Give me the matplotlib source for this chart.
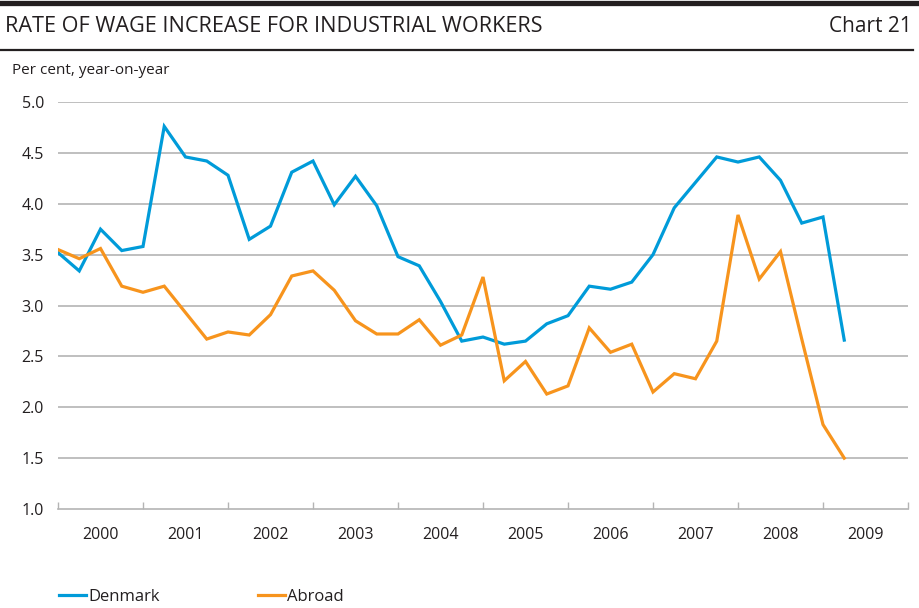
import matplotlib
matplotlib.use("Agg")
from matplotlib import pyplot as plt
from matplotlib.lines import Line2D

plt.rcParams['font.family'] = ['Open Sans', 'DejaVu Sans']

# quarterly data, 2000Q1 - 2009Q2
start_year = 2000
denmark = [3.52, 3.34, 3.75, 3.54, 3.58, 4.76, 4.46, 4.42, 4.28, 3.65,
           3.78, 4.31, 4.42, 3.99, 4.27, 3.98, 3.48, 3.39, 3.04, 2.65,
           2.69, 2.62, 2.65, 2.82, 2.90, 3.19, 3.16, 3.23, 3.50, 3.96,
           4.21, 4.46, 4.41, 4.46, 4.23, 3.81, 3.87, 2.66]
abroad = [3.55, 3.46, 3.56, 3.19, 3.13, 3.19, 2.93, 2.67, 2.74, 2.71,
          2.91, 3.29, 3.34, 3.15, 2.85, 2.72, 2.72, 2.86, 2.61, 2.71,
          3.28, 2.26, 2.45, 2.13, 2.21, 2.78, 2.54, 2.62, 2.15, 2.33,
          2.28, 2.65, 3.89, 3.26, 3.53, 2.67, 1.83, 1.50]
years = list(range(2000, 2010))
y_ticks = [1.0, 1.5, 2.0, 2.5, 3.0, 3.5, 4.0, 4.5, 5.0]

blue = '#009bd9'
orange = '#f7941d'
grid_col = '#b4b4b4'
text_col = '#231f20'

W, H = 920, 608
fig = plt.figure(figsize=(W / 100, H / 100), dpi=100)

def fx(px):
    return px / W

def fy(py):
    return 1 - py / H

# header bars and text
fig.add_artist(Line2D([0, 1], [fy(2.5), fy(2.5)], color='#231f20', lw=3.8))
fig.add_artist(Line2D([0, fx(913)], [fy(49.5), fy(49.5)], color='#231f20', lw=1.6))
fig.text(fx(5), fy(27), 'RATE OF WAGE INCREASE FOR INDUSTRIAL WORKERS',
         fontsize=15.6, color=text_col, va='center', ha='left')
fig.text(fx(912), fy(27), 'Chart 21', fontsize=15, color=text_col,
         va='center', ha='right')
fig.text(fx(12), fy(71), 'Per cent, year-on-year', fontsize=11,
         color=text_col, va='center', ha='left')

left, right, top, bottom = 58, 908, 102, 509
ax = fig.add_axes([fx(left), fy(bottom), fx(right - left), (bottom - top) / H])

xq = [start_year + i / 4 for i in range(len(denmark))]
l1, = ax.plot(xq, denmark, color=blue, lw=2.3, label='Denmark', solid_joinstyle='miter')
l2, = ax.plot(xq, abroad, color=orange, lw=2.3, label='Abroad', solid_joinstyle='miter')

ax.set_xlim(2000, 2010)
ax.set_ylim(1.0, 5.0)
for s in ['top', 'right', 'left']:
    ax.spines[s].set_visible(False)
ax.spines['bottom'].set_color(grid_col)
ax.spines['bottom'].set_linewidth(1.2)

ax.set_yticks(y_ticks)
ax.set_yticklabels(['%.1f' % v for v in y_ticks])
for v in y_ticks[1:]:
    ax.axhline(v, color=grid_col, lw=1.2, zorder=0)
ax.tick_params(axis='y', length=0, pad=10, labelsize=11.5, labelcolor=text_col)

ax.set_xticks(list(range(2000, 2011)))
ax.set_xticklabels([])
ax.tick_params(axis='x', which='major', direction='in', length=5, width=1,
               color=grid_col)
ax.set_xticks([y + 0.5 for y in years], minor=True)
ax.set_xticklabels([str(y) for y in years], minor=True)
ax.tick_params(axis='x', which='minor', length=0, pad=13, labelsize=11.5,
               labelcolor=text_col)

leg = fig.legend(handles=[l1, l2], loc='center left',
                 bbox_to_anchor=(fx(59), fy(597)), ncol=2, frameon=False,
                 fontsize=12, handlelength=1.6, handletextpad=0.15,
                 columnspacing=5.9, borderaxespad=0, borderpad=0)
for t in leg.get_texts():
    t.set_color(text_col)

fig.savefig('out.png', dpi=100)
